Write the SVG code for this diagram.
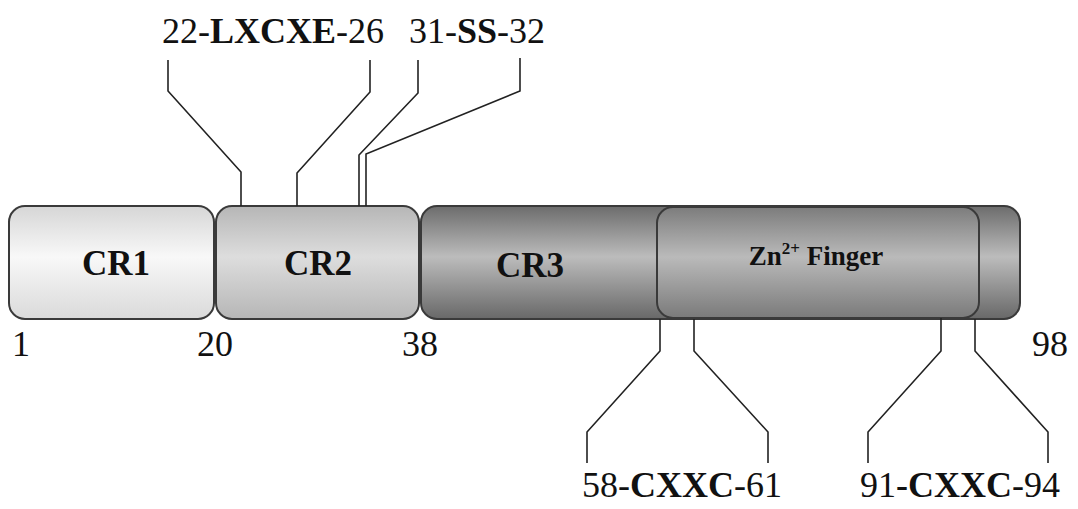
<svg xmlns="http://www.w3.org/2000/svg" width="1078" height="509" viewBox="0 0 1078 509">
  <defs>
    <linearGradient id="gCR1" x1="0" y1="0" x2="0" y2="1">
      <stop offset="0" stop-color="#d6d6d6"/>
      <stop offset="0.45" stop-color="#f8f8f8"/>
      <stop offset="1" stop-color="#dadada"/>
    </linearGradient>
    <linearGradient id="gCR2" x1="0" y1="0" x2="0" y2="1">
      <stop offset="0" stop-color="#b6b6b6"/>
      <stop offset="0.45" stop-color="#dddddd"/>
      <stop offset="1" stop-color="#b6b6b6"/>
    </linearGradient>
    <linearGradient id="gCR3" x1="0" y1="0" x2="0" y2="1">
      <stop offset="0" stop-color="#6c6c6c"/>
      <stop offset="0.45" stop-color="#bcbcbc"/>
      <stop offset="1" stop-color="#686868"/>
    </linearGradient>
    <linearGradient id="gZn" x1="0" y1="0" x2="0" y2="1">
      <stop offset="0" stop-color="#7c7c7c"/>
      <stop offset="0.45" stop-color="#bababa"/>
      <stop offset="1" stop-color="#7a7a7a"/>
    </linearGradient>
  </defs>
  <style>
    .box { stroke: #3a3a3a; stroke-width: 2; }
    .lbl { font-weight: bold; fill: #111; text-anchor: middle; }
    .num { font-size: 36px; fill: #111; }
    .site { font-size: 36px; fill: #111; }
    .b { font-weight: bold; }
    .conn { fill: none; stroke: #222; stroke-width: 1.6; }
  </style>
  <rect width="1078" height="509" fill="#ffffff"/>

  <g font-family="Liberation Serif, Times New Roman, serif">
  <!-- domains -->
  <g id="cr3">
    <rect class="box" x="421" y="206" width="599" height="113" rx="16" fill="url(#gCR3)"/>
    <text class="lbl" x="530" y="277" font-size="35">CR3</text>
  </g>
  <g id="zn-finger">
    <rect class="box" x="657" y="207" width="322" height="111" rx="16" fill="url(#gZn)"/>
    <text class="lbl" x="816" y="265" font-size="27">Zn<tspan dy="-11" font-size="17">2+</tspan><tspan dy="11"> Finger</tspan></text>
  </g>
  <g id="cr1">
    <rect class="box" x="9" y="206" width="205" height="113" rx="16" fill="url(#gCR1)"/>
    <text class="lbl" x="116" y="275" font-size="35">CR1</text>
  </g>
  <g id="cr2">
    <rect class="box" x="216" y="206" width="203" height="113" rx="16" fill="url(#gCR2)"/>
    <text class="lbl" x="318" y="275" font-size="35">CR2</text>
  </g>

  <!-- residue positions -->
  <g id="positions">
    <text class="num" x="12" y="356">1</text>
    <text class="num" x="197" y="356">20</text>
    <text class="num" x="402" y="356">38</text>
    <text class="num" x="1032" y="356">98</text>
  </g>

  <!-- motif connectors -->
  <g id="connectors">
    <polyline class="conn" points="168,60 168,91 241,172 241,206"/>
    <polyline class="conn" points="370,60 370,92 297,173 297,206"/>
    <polyline class="conn" points="418,60 418,93 359,155 359,206"/>
    <polyline class="conn" points="520,58 520,91 366,154 366,206"/>
    <polyline class="conn" points="660,319 660,351 587,432 587,463"/>
    <polyline class="conn" points="694,319 694,351 768,432 768,463"/>
    <polyline class="conn" points="941,318 941,351 868,432 868,463"/>
    <polyline class="conn" points="975,319 975,351 1048,432 1048,463"/>
  </g>

  <!-- motif labels -->
  <g id="motif-lxcxe">
    <text class="site" x="162" y="43">22-<tspan class="b">LXCXE</tspan>-26</text>
  </g>
  <g id="motif-ss">
    <text class="site" x="409" y="43">31-<tspan class="b">SS</tspan>-32</text>
  </g>
  <g id="motif-cxxc-58">
    <text class="site" x="582" y="497">58-<tspan class="b">CXXC</tspan>-61</text>
  </g>
  <g id="motif-cxxc-91">
    <text class="site" x="860" y="497">91<tspan class="b">-CXXC</tspan>-94</text>
  </g>
  </g>
</svg>
